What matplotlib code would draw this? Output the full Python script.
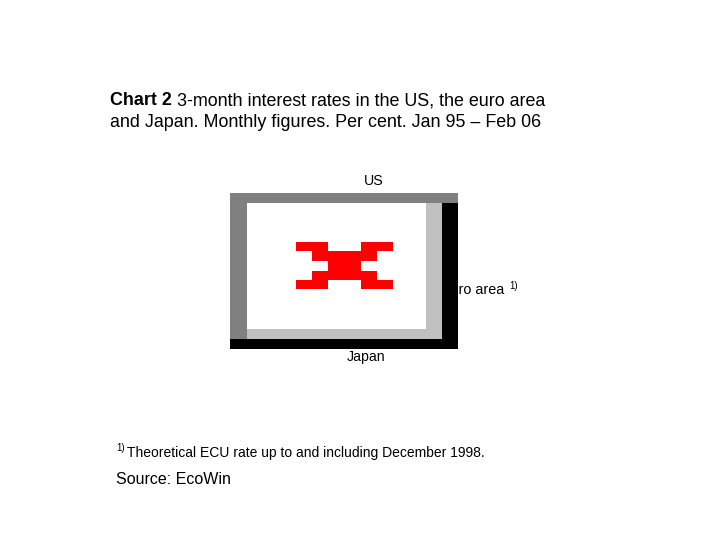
import matplotlib.pyplot as plt
from matplotlib.patches import Rectangle

plt.rcParams['font.family'] = ['Liberation Sans', 'DejaVu Sans']

# chart texts
title_bold = 'Chart 2'
title_rest = ' 3-month interest rates in the US, the euro area'
title_line2 = 'and Japan. Monthly figures. Per cent. Jan 95 \u2013 Feb 06'
series = ['US', 'Euro area', 'Japan']
footnote = 'Theoretical ECU rate up to and including December 1998.'
source = 'Source: EcoWin'

fig = plt.figure(figsize=(7.2, 5.4), dpi=100)
ax = fig.add_axes([0, 0, 1, 1])
ax.set_xlim(0, 720)
ax.set_ylim(540, 0)
ax.axis('off')

# title
fs = 12.9
t = ax.text(110, 105, title_bold, fontsize=fs, fontweight='bold', va='baseline')
fig.canvas.draw()
bb = t.get_window_extent().transformed(ax.transData.inverted())
ax.text(bb.x1, 105, title_rest, fontsize=fs, va='baseline')
ax.text(110, 127, title_line2, fontsize=fs, va='baseline')

# series labels (the picture of the chart itself did not load)
ax.text(374, 181, series[0], fontsize=10.2, ha='center', va='center')
ax.text(504.5, 290, series[1], fontsize=10.4, ha='right', va='center', zorder=1)
ax.text(509, 286, '1)', fontsize=7, ha='left', va='center', zorder=1)
ax.text(366.5, 357, series[2], fontsize=10.2, ha='center', va='center')

# broken image frame
def box(x0, y0, x1, y1, c):
    ax.add_patch(Rectangle((x0, y0), x1 - x0, y1 - y0, facecolor=c,
                           edgecolor='none', zorder=3))

box(230, 193, 458, 349, '#808080')
box(442, 203, 458, 349, 'black')
box(230, 339, 458, 349, 'black')
box(247, 203, 442, 339, '#c0c0c0')
box(247, 203, 426, 329, 'white')

# red icon
red = [(242, 251, [(296, 328), (361, 393)]),
       (251, 261, [(312, 377)]),
       (261, 271, [(328, 361)]),
       (271, 280, [(312, 377)]),
       (280, 289, [(296, 328), (361, 393)])]
for y0, y1, spans in red:
    for x0, x1 in spans:
        box(x0, y0, x1, y1, '#ff0000')

# footnote and source
ax.text(116, 448, '1)', fontsize=7, va='center')
ax.text(127, 453, footnote, fontsize=10, va='center')
ax.text(116, 480, source, fontsize=11.5, va='center')

fig.savefig('out.png', dpi=100)
